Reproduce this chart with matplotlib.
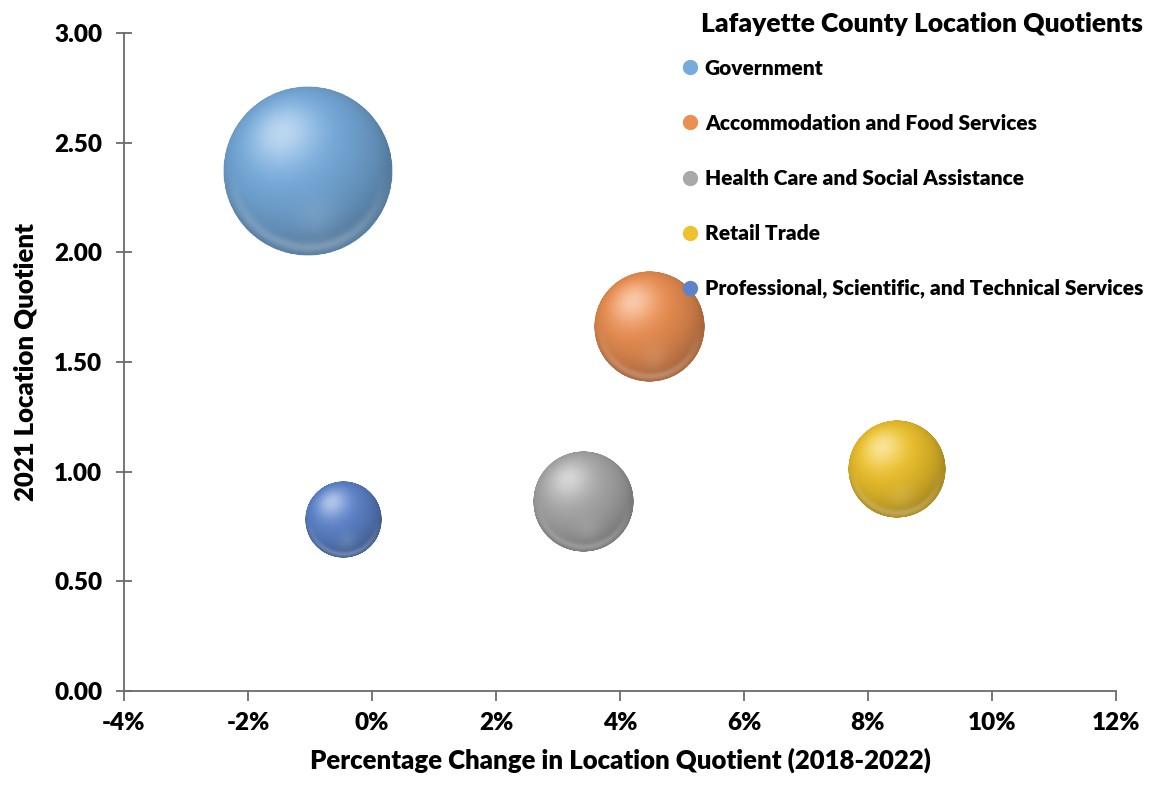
import numpy as np
import matplotlib
matplotlib.use('Agg')
from matplotlib import pyplot as plt
from matplotlib.lines import Line2D
from matplotlib.ticker import FuncFormatter, MultipleLocator
from matplotlib.offsetbox import OffsetImage, AnnotationBbox

# chart data
industries = ['Government', 'Accommodation and Food Services', 'Health Care and Social Assistance',
              'Retail Trade', 'Professional, Scientific, and Technical Services']
pct_change = [-1.03, 4.47, 3.40, 8.47, -0.47]       # % change in LQ 2018-2022
lq_2021 = [2.37, 1.66, 0.86, 1.01, 0.78]            # 2021 location quotient
bubble_size = [1950, 817, 675, 648, 390]             # relative bubble size (area)
colors = ['#76abdc', '#ec8f52', '#a9a9a9', '#eec22c', '#5d84cb']

plt.rcParams['font.family'] = ['Lato', 'DejaVu Sans']
plt.rcParams['font.weight'] = 'heavy'


def sphere_image(color, n=300):
    # soft shaded ball, light from the upper left
    base = np.array(matplotlib.colors.to_rgb(color))
    yy, xx = np.mgrid[1:-1:n * 1j, -1:1:n * 1j]
    rr = np.sqrt(xx ** 2 + yy ** 2)
    zz = np.sqrt(np.clip(1 - rr ** 2, 0, 1))
    light = np.array([-0.3, 0.45, 0.84])
    light = light / np.linalg.norm(light)
    diff = np.clip(xx * light[0] + yy * light[1] + zz * light[2], 0, 1)
    spec = diff ** 12
    # light rim on the lower edge
    rim = np.exp(-(rr - 0.9) ** 2 / 0.004) * np.clip(-yy, 0, 1) * 0.25
    refl = np.exp(-((xx - 0.1) ** 2 + (yy + 0.55) ** 2) / 0.06) * 0.10
    shade = 0.72 + 0.3 * diff
    rgb = base[None, None, :] * shade[..., None]
    rgb = rgb + (1 - rgb) * (0.5 * spec + rim + refl)[..., None]
    rgb = np.clip(rgb, 0, 1)
    alpha = np.clip((1 - rr) * n / 2, 0, 1)
    return np.dstack([rgb, alpha])


fig = plt.figure(figsize=(11.5, 7.88), dpi=100)
ax = fig.add_axes([0.1078, 0.1231, 0.8626, 0.835])

ax.set_xlim(-4, 12)
ax.set_ylim(0, 3)
ax.xaxis.set_major_locator(MultipleLocator(2))
ax.yaxis.set_major_locator(MultipleLocator(0.5))
ax.xaxis.set_major_formatter(FuncFormatter(lambda v, p: '%.0f%%' % v))
ax.yaxis.set_major_formatter(FuncFormatter(lambda v, p: '%.2f' % v))

for side in ['top', 'right']:
    ax.spines[side].set_visible(False)
for side in ['left', 'bottom']:
    ax.spines[side].set_color('#6b6b6b')
    ax.spines[side].set_linewidth(1.3)
ax.tick_params(axis='y', direction='inout', length=11, width=1.3, color='#6b6b6b',
               labelsize=17.5, pad=10)
ax.tick_params(axis='x', direction='out', length=7, width=1.3, color='#6b6b6b',
               labelsize=17.5, pad=8)
for lbl in ax.get_xticklabels() + ax.get_yticklabels():
    lbl.set_fontweight('heavy')

ax.set_xlabel('Percentage Change in Location Quotient (2018-2022)', fontsize=18.5,
              fontweight='heavy', labelpad=10)
ax.set_ylabel('2021 Location Quotient', fontsize=18.5, fontweight='heavy', labelpad=12)

# bubbles (area proportional to size)
k = 85. / np.sqrt(max(bubble_size))
order = np.argsort(bubble_size)[::-1]
for i in order:
    diam = 2 * k * np.sqrt(bubble_size[i])
    img = sphere_image(colors[i])
    oi = OffsetImage(img, zoom=diam / img.shape[0], dpi_cor=False)
    ab = AnnotationBbox(oi, (pct_change[i], lq_2021[i]), frameon=False, pad=0,
                        box_alignment=(0.5, 0.5), annotation_clip=False)
    ax.add_artist(ab)

handles = [Line2D([], [], linestyle='', marker='o', markersize=10, markerfacecolor=c,
                  markeredgecolor=c, label=l) for c, l in zip(colors, industries)]
leg = fig.legend(handles=handles, loc='upper right', bbox_to_anchor=(1.005, 1.0),
                 frameon=False, fontsize=15, title='Lafayette County Location Quotients',
                 title_fontproperties={'size': 19, 'weight': 'heavy'},
                 labelspacing=1.73, handlelength=0.8, handletextpad=0.3, borderaxespad=0.2)
for t in leg.get_texts():
    t.set_fontweight('heavy')
leg._legend_box.sep = 16
leg._legend_box.align = 'right'

fig.savefig('out.png', dpi=100)
